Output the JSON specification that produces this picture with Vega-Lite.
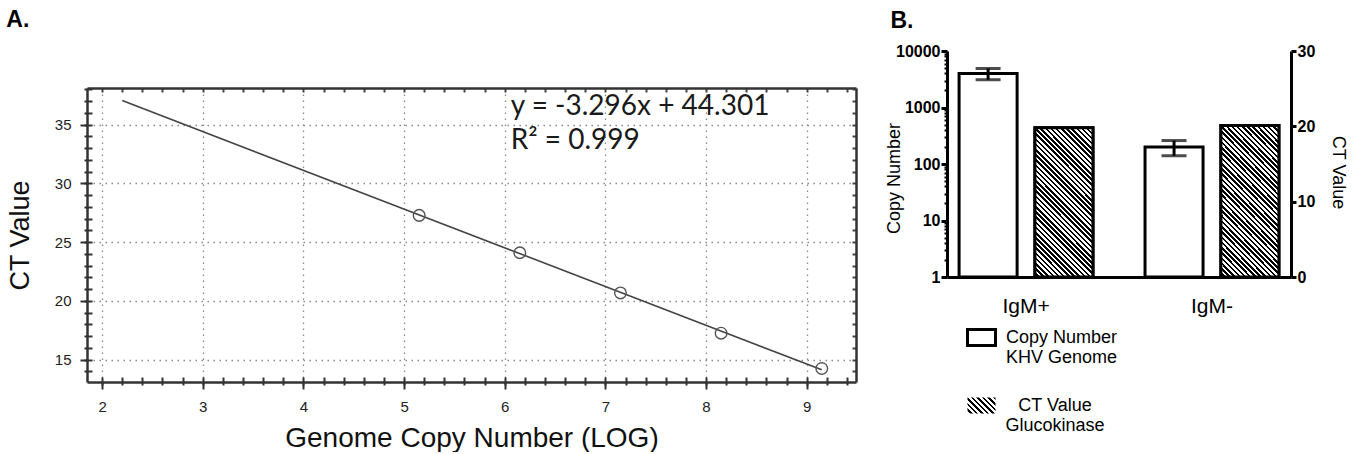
{
  "$schema": "https://vega.github.io/schema/vega-lite/v6.json",
  "background": "white",
  "padding": {"left": 6, "right": 5, "top": 9, "bottom": 0},
  "spacing": 28,
  "config": {"view": {"stroke": null}, "font": "Liberation Sans"},
  "resolve": {"legend": {"fill": "independent", "opacity": "independent"}, "scale": {"fill": "independent", "opacity": "independent"}},
  "datasets": {
    "fit": [{"logN": 2.2, "ct": 37.05}, {"logN": 9.15, "ct": 14.14}],
    "pts": [
      {"logN": 5.15, "ct": 27.28},
      {"logN": 6.15, "ct": 24.1},
      {"logN": 7.15, "ct": 20.68},
      {"logN": 8.15, "ct": 17.25},
      {"logN": 9.15, "ct": 14.25}
    ],
    "eq": [
      {"logN": 6.06, "ct": 36.5, "label": "y = -3.296x + 44.301"},
      {"logN": 6.06, "ct": 33.6, "label": "R² =  0.999"}
    ],
    "bars": [
      {"group": "IgM+", "series": "Copy", "value": 4000, "lo": 3100, "hi": 4900},
      {"group": "IgM+", "series": "CT", "value": 19.8},
      {"group": "IgM-", "series": "Copy", "value": 200, "lo": 140, "hi": 260},
      {"group": "IgM-", "series": "CT", "value": 20.1}
    ]
  },
  "hconcat": [
    {
      "title": {"text": "A.", "anchor": "start", "frame": "bounds", "font": "Liberation Sans", "fontSize": 23, "fontWeight": "bold", "color": "black", "offset": 19},
      "spacing": 0,
      "vconcat": [
        {
          "width": 769,
          "height": 36,
          "data": {"values": []},
          "mark": {"type": "point"},
          "encoding": {}
        },
        {
          "width": 769,
          "height": 294,
          "layer": [
            {
              "data": {"name": "fit"},
              "mark": {"type": "line", "color": "#444", "strokeWidth": 1.6},
              "encoding": {
                "x": {"field": "logN", "type": "quantitative",
                  "scale": {"domain": [1.85, 9.49], "nice": false, "zero": false},
                  "axis": {"orient": "bottom", "values": [2, 3, 4, 5, 6, 7, 8, 9], "format": "d",
                    "tickSize": 7, "tickWidth": 2, "tickColor": "#333", "domainColor": "#333", "domainWidth": 2.5,
                    "grid": true, "gridColor": "#888", "gridDash": [1.5, 4.5], "gridWidth": 1.3,
                    "labelFont": "Liberation Sans", "labelFontSize": 15, "labelColor": "#222", "labelPadding": 10,
                    "title": "Genome Copy Number (LOG)", "titleFont": "Liberation Sans", "titleFontSize": 28, "titleFontWeight": "normal", "titleColor": "#111", "titlePadding": 10}},
                "y": {"field": "ct", "type": "quantitative",
                  "scale": {"domain": [13.1, 38.12], "nice": false, "zero": false},
                  "axis": {"orient": "left", "values": [15, 20, 25, 30, 35], "format": "d",
                    "tickSize": 7, "tickWidth": 2, "tickColor": "#333", "domainColor": "#333", "domainWidth": 2.5,
                    "grid": true, "gridColor": "#888", "gridDash": [1.5, 4.5], "gridWidth": 1.3,
                    "labelFont": "Liberation Sans", "labelFontSize": 15, "labelColor": "#222", "labelPadding": 9,
                    "title": "CT Value", "titleFont": "Liberation Sans", "titleFontSize": 27, "titleFontWeight": "normal", "titleColor": "#111", "titlePadding": 20}}
              }
            },
            {
              "data": {"name": "pts"},
              "mark": {"type": "point", "shape": "circle", "size": 135, "color": "#555", "strokeWidth": 1.4, "filled": false, "opacity": 1},
              "encoding": {
                "x": {"field": "logN", "type": "quantitative",
                  "axis": {"orient": "bottom", "values": [2,2.2,2.4,2.6,2.8,3,3.2,3.4,3.6,3.8,4,4.2,4.4,4.6,4.8,5,5.2,5.4,5.6,5.8,6,6.2,6.4,6.6,6.8,7,7.2,7.4,7.6,7.8,8,8.2,8.4,8.6,8.8,9,9.2,9.4],
                    "tickSize": -5, "tickWidth": 2, "tickColor": "#333", "domain": false, "grid": false, "labels": false, "title": null}},
                "y": {"field": "ct", "type": "quantitative",
                  "axis": {"orient": "left", "values": [14,15,16,17,18,19,20,21,22,23,24,25,26,27,28,29,30,31,32,33,34,35,36,37,38],
                    "tickSize": -5, "tickWidth": 2, "tickColor": "#333", "domain": false, "grid": false, "labels": false, "title": null}}
              }
            },
            {
              "data": {"name": "pts"},
              "mark": {"type": "point", "opacity": 0},
              "encoding": {
                "x": {"field": "logN", "type": "quantitative",
                  "axis": {"orient": "top", "values": [2,2.2,2.4,2.6,2.8,3,3.2,3.4,3.6,3.8,4,4.2,4.4,4.6,4.8,5,5.2,5.4,5.6,5.8,6,6.2,6.4,6.6,6.8,7,7.2,7.4,7.6,7.8,8,8.2,8.4,8.6,8.8,9,9.2,9.4],
                    "tickSize": -4, "tickWidth": 2, "tickColor": "#444", "domain": true, "domainColor": "#333", "domainWidth": 2.5, "grid": false, "labels": false, "title": null}},
                "y": {"field": "ct", "type": "quantitative",
                  "axis": {"orient": "right", "values": [14,15,16,17,18,19,20,21,22,23,24,25,26,27,28,29,30,31,32,33,34,35,36,37,38],
                    "tickSize": -4, "tickWidth": 2, "tickColor": "#444", "domain": true, "domainColor": "#333", "domainWidth": 2.5, "grid": false, "labels": false, "title": null}}
              }
            },
            {
              "data": {"name": "pts"},
              "mark": {"type": "point", "opacity": 0},
              "encoding": {
                "x": {"field": "logN", "type": "quantitative",
                  "axis": {"orient": "bottom", "values": [2,2.2,2.4,2.6,2.8,3,3.2,3.4,3.6,3.8,4,4.2,4.4,4.6,4.8,5,5.2,5.4,5.6,5.8,6,6.2,6.4,6.6,6.8,7,7.2,7.4,7.6,7.8,8,8.2,8.4,8.6,8.8,9,9.2,9.4],
                    "tickSize": 3, "tickWidth": 2, "tickColor": "#333", "domain": false, "grid": false, "labels": false, "title": null}},
                "y": {"field": "ct", "type": "quantitative",
                  "axis": {"orient": "left", "values": [14,15,16,17,18,19,20,21,22,23,24,25,26,27,28,29,30,31,32,33,34,35,36,37,38],
                    "tickSize": 3, "tickWidth": 2, "tickColor": "#333", "domain": false, "grid": false, "labels": false, "title": null}}
              }
            },
            {
              "data": {"name": "eq"},
              "mark": {"type": "text", "align": "left", "baseline": "middle", "font": "Lato", "fontSize": 28, "color": "#1a1a1a"},
              "encoding": {
                "x": {"field": "logN", "type": "quantitative", "axis": null},
                "y": {"field": "ct", "type": "quantitative", "axis": null},
                "text": {"field": "label"}
              }
            }
          ],
          "resolve": {"axis": {"x": "independent", "y": "independent"}}
        }
      ]
    },
    {
      "width": 344,
      "height": 226,
      "title": {"text": "B.", "anchor": "start", "frame": "bounds", "font": "Liberation Sans", "fontSize": 23, "fontWeight": "bold", "color": "black", "offset": 10, "dx": 5},
      "data": {"name": "bars"},
      "encoding": {
        "x": {"field": "group", "type": "nominal", "sort": ["IgM+", "IgM-"],
          "scale": {"paddingInner": 0.28, "paddingOuter": 0.065},
          "axis": {"orient": "bottom", "title": null, "ticks": false, "domainWidth": 3, "domainColor": "black",
            "labels": true, "labelFont": "Liberation Sans", "labelFontSize": 21, "labelColor": "black", "labelPadding": 18, "labelAngle": 0}},
        "xOffset": {"field": "series", "type": "nominal", "scale": {"domain": ["Copy", "CT"], "paddingInner": 0.235, "paddingOuter": 0}}
      },
      "layer": [
        {
          "layer": [
            {
              "transform": [{"filter": "datum.series === 'Copy'"}],
              "mark": {"type": "bar", "stroke": "black", "strokeWidth": 3, "strokeJoin": "miter"},
              "encoding": {
                "y": {"field": "value", "type": "quantitative",
                  "scale": {"type": "log", "domain": [1, 10000], "nice": false},
                  "axis": {"orient": "left", "values": [1, 10, 100, 1000, 10000], "format": "d",
                    "tickSize": 6, "tickWidth": 3, "tickColor": "black", "domainWidth": 3, "domainColor": "black", "grid": false,
                    "labelFont": "Liberation Sans", "labelFontSize": 16, "labelFontWeight": "bold", "labelColor": "black", "labelPadding": 1,
                    "title": "Copy Number", "titleFont": "Liberation Sans", "titleFontSize": 18, "titleFontWeight": "normal", "titleColor": "black", "titlePadding": -8, "titleY": 127}},
                "y2": {"datum": 1},
                "fill": {"field": "series", "type": "nominal",
                  "scale": {"domain": ["Copy"], "range": ["white"]},
                  "legend": {
                    "title": null, "orient": "none", "legendX": 19, "legendY": 271, "direction": "vertical", "padding": 0,
                    "symbolType": "M-1,-0.5714H1V0.5714H-1Z", "symbolSize": 784, "symbolStrokeWidth": 3, "symbolStrokeColor": "black", "symbolOpacity": 1,
                    "labelFont": "Liberation Sans", "labelFontSize": 18, "labelColor": "black", "labelOffset": 9,
                    "labelExpr": "['Copy Number', 'KHV Genome']",
                    "encode": {
                      "labels": {"lineHeight": {"value": 22}, "dy": {"value": 11}}
                    }
                  }}
              }
            },
            {
              "transform": [{"filter": "datum.series === 'Copy'"}],
              "mark": {"type": "rule", "color": "black", "strokeWidth": 3},
              "encoding": {
                "y": {"field": "lo", "type": "quantitative",
                  "axis": {"orient": "left", "values": [2,3,4,5,6,7,8,9,20,30,40,50,60,70,80,90,200,300,400,500,600,700,800,900,2000,3000,4000,5000,6000,7000,8000,9000],
                    "tickSize": 3, "tickWidth": 2, "tickColor": "black", "domain": false, "grid": false, "labels": false, "title": null}},
                "y2": {"field": "hi"}
              }
            },
            {
              "transform": [{"filter": "datum.series === 'Copy'"}],
              "mark": {"type": "tick", "color": "black", "thickness": 3, "size": 25, "orient": "horizontal"},
              "encoding": {
                "y": {"field": "hi", "type": "quantitative", "axis": null}
              }
            },
            {
              "transform": [{"filter": "datum.series === 'Copy'"}],
              "mark": {"type": "tick", "color": "black", "thickness": 3, "size": 25, "orient": "horizontal"},
              "encoding": {
                "y": {"field": "lo", "type": "quantitative", "axis": null}
              }
            }
          ],
          "resolve": {"axis": {"y": "independent"}}
        },
        {
          "layer": [
            {
              "transform": [{"filter": "datum.series === 'CT'"}],
              "mark": {"type": "bar", "stroke": "black", "strokeWidth": 3, "strokeJoin": "miter",
                "fill": {"gradient": "linear", "x1": 0, "y1": 1, "x2": 1.184, "y2": 0.324, "stops": [
                  {"offset": 0, "color": "#fff"},
                  {"offset": 0.0625, "color": "#fff"}, {"offset": 0.0625, "color": "#000"},
                  {"offset": 0.125, "color": "#000"}, {"offset": 0.125, "color": "#fff"},
                  {"offset": 0.1875, "color": "#fff"}, {"offset": 0.1875, "color": "#000"},
                  {"offset": 0.25, "color": "#000"}, {"offset": 0.25, "color": "#fff"},
                  {"offset": 0.3125, "color": "#fff"}, {"offset": 0.3125, "color": "#000"},
                  {"offset": 0.375, "color": "#000"}, {"offset": 0.375, "color": "#fff"},
                  {"offset": 0.4375, "color": "#fff"}, {"offset": 0.4375, "color": "#000"},
                  {"offset": 0.5, "color": "#000"}, {"offset": 0.5, "color": "#fff"},
                  {"offset": 0.5625, "color": "#fff"}, {"offset": 0.5625, "color": "#000"},
                  {"offset": 0.625, "color": "#000"}, {"offset": 0.625, "color": "#fff"},
                  {"offset": 0.6875, "color": "#fff"}, {"offset": 0.6875, "color": "#000"},
                  {"offset": 0.75, "color": "#000"}, {"offset": 0.75, "color": "#fff"},
                  {"offset": 0.8125, "color": "#fff"}, {"offset": 0.8125, "color": "#000"},
                  {"offset": 0.875, "color": "#000"}, {"offset": 0.875, "color": "#fff"},
                  {"offset": 0.9375, "color": "#fff"}, {"offset": 0.9375, "color": "#000"},
                  {"offset": 1, "color": "#000"}
                ]}},
              "encoding": {
                "y": {"field": "value", "type": "quantitative",
                  "scale": {"domain": [0, 30], "nice": false},
                  "axis": {"orient": "right", "values": [0, 5, 10, 15, 20, 25, 30],
                    "tickSize": 5, "tickWidth": 3, "tickColor": "black", "domainWidth": 3, "domainColor": "black", "grid": false,
                    "labelFont": "Liberation Sans", "labelFontSize": 16, "labelFontWeight": "bold", "labelColor": "black", "labelPadding": 1,
                    "title": "CT Value", "titleFont": "Liberation Sans", "titleFontSize": 18, "titleFontWeight": "normal", "titleColor": "black", "titlePadding": 14, "titleY": 121}},
                "opacity": {"field": "series", "type": "ordinal",
                  "scale": {"domain": ["CT"], "range": [1]},
                  "legend": {
                    "title": null, "orient": "none", "legendX": 19, "legendY": 339, "direction": "vertical", "padding": 0,
                    "symbolType": "M-1,-0.5714H1V0.5714H-1Z", "symbolSize": 784, "symbolStrokeWidth": 3, "symbolStrokeColor": "black", "symbolOpacity": 1,
                    "labelFont": "Liberation Sans", "labelFontSize": 18, "labelColor": "black", "labelOffset": 58, "labelAlign": "center",
                    "labelExpr": "['CT Value', 'Glucokinase']",
                    "encode": {
                      "labels": {"lineHeight": {"value": 22}, "dy": {"value": 11}}
                    }
                  }}
              }
            },
            {
              "transform": [{"filter": "datum.series === 'CT'"}],
              "mark": {"type": "bar", "stroke": "black", "strokeWidth": 3, "strokeJoin": "miter",
                "fill": {"gradient": "linear", "x1": 0, "y1": 1, "x2": 0.4706, "y2": -0.2066, "stops": [
                  {"offset": 0, "color": "#fff"},
                  {"offset": 0.0125, "color": "#fff"}, {"offset": 0.0125, "color": "#000"},
                  {"offset": 0.025, "color": "#000"}, {"offset": 0.025, "color": "#fff"},
                  {"offset": 0.0375, "color": "#fff"}, {"offset": 0.0375, "color": "#000"},
                  {"offset": 0.05, "color": "#000"}, {"offset": 0.05, "color": "#fff"},
                  {"offset": 0.0625, "color": "#fff"}, {"offset": 0.0625, "color": "#000"},
                  {"offset": 0.075, "color": "#000"}, {"offset": 0.075, "color": "#fff"},
                  {"offset": 0.0875, "color": "#fff"}, {"offset": 0.0875, "color": "#000"},
                  {"offset": 0.1, "color": "#000"}, {"offset": 0.1, "color": "#fff"},
                  {"offset": 0.1125, "color": "#fff"}, {"offset": 0.1125, "color": "#000"},
                  {"offset": 0.125, "color": "#000"}, {"offset": 0.125, "color": "#fff"},
                  {"offset": 0.1375, "color": "#fff"}, {"offset": 0.1375, "color": "#000"},
                  {"offset": 0.15, "color": "#000"}, {"offset": 0.15, "color": "#fff"},
                  {"offset": 0.1625, "color": "#fff"}, {"offset": 0.1625, "color": "#000"},
                  {"offset": 0.175, "color": "#000"}, {"offset": 0.175, "color": "#fff"},
                  {"offset": 0.1875, "color": "#fff"}, {"offset": 0.1875, "color": "#000"},
                  {"offset": 0.2, "color": "#000"}, {"offset": 0.2, "color": "#fff"},
                  {"offset": 0.2125, "color": "#fff"}, {"offset": 0.2125, "color": "#000"},
                  {"offset": 0.225, "color": "#000"}, {"offset": 0.225, "color": "#fff"},
                  {"offset": 0.2375, "color": "#fff"}, {"offset": 0.2375, "color": "#000"},
                  {"offset": 0.25, "color": "#000"}, {"offset": 0.25, "color": "#fff"},
                  {"offset": 0.2625, "color": "#fff"}, {"offset": 0.2625, "color": "#000"},
                  {"offset": 0.275, "color": "#000"}, {"offset": 0.275, "color": "#fff"},
                  {"offset": 0.2875, "color": "#fff"}, {"offset": 0.2875, "color": "#000"},
                  {"offset": 0.3, "color": "#000"}, {"offset": 0.3, "color": "#fff"},
                  {"offset": 0.3125, "color": "#fff"}, {"offset": 0.3125, "color": "#000"},
                  {"offset": 0.325, "color": "#000"}, {"offset": 0.325, "color": "#fff"},
                  {"offset": 0.3375, "color": "#fff"}, {"offset": 0.3375, "color": "#000"},
                  {"offset": 0.35, "color": "#000"}, {"offset": 0.35, "color": "#fff"},
                  {"offset": 0.3625, "color": "#fff"}, {"offset": 0.3625, "color": "#000"},
                  {"offset": 0.375, "color": "#000"}, {"offset": 0.375, "color": "#fff"},
                  {"offset": 0.3875, "color": "#fff"}, {"offset": 0.3875, "color": "#000"},
                  {"offset": 0.4, "color": "#000"}, {"offset": 0.4, "color": "#fff"},
                  {"offset": 0.4125, "color": "#fff"}, {"offset": 0.4125, "color": "#000"},
                  {"offset": 0.425, "color": "#000"}, {"offset": 0.425, "color": "#fff"},
                  {"offset": 0.4375, "color": "#fff"}, {"offset": 0.4375, "color": "#000"},
                  {"offset": 0.45, "color": "#000"}, {"offset": 0.45, "color": "#fff"},
                  {"offset": 0.4625, "color": "#fff"}, {"offset": 0.4625, "color": "#000"},
                  {"offset": 0.475, "color": "#000"}, {"offset": 0.475, "color": "#fff"},
                  {"offset": 0.4875, "color": "#fff"}, {"offset": 0.4875, "color": "#000"},
                  {"offset": 0.5, "color": "#000"}, {"offset": 0.5, "color": "#fff"},
                  {"offset": 0.5125, "color": "#fff"}, {"offset": 0.5125, "color": "#000"},
                  {"offset": 0.525, "color": "#000"}, {"offset": 0.525, "color": "#fff"},
                  {"offset": 0.5375, "color": "#fff"}, {"offset": 0.5375, "color": "#000"},
                  {"offset": 0.55, "color": "#000"}, {"offset": 0.55, "color": "#fff"},
                  {"offset": 0.5625, "color": "#fff"}, {"offset": 0.5625, "color": "#000"},
                  {"offset": 0.575, "color": "#000"}, {"offset": 0.575, "color": "#fff"},
                  {"offset": 0.5875, "color": "#fff"}, {"offset": 0.5875, "color": "#000"},
                  {"offset": 0.6, "color": "#000"}, {"offset": 0.6, "color": "#fff"},
                  {"offset": 0.6125, "color": "#fff"}, {"offset": 0.6125, "color": "#000"},
                  {"offset": 0.625, "color": "#000"}, {"offset": 0.625, "color": "#fff"},
                  {"offset": 0.6375, "color": "#fff"}, {"offset": 0.6375, "color": "#000"},
                  {"offset": 0.65, "color": "#000"}, {"offset": 0.65, "color": "#fff"},
                  {"offset": 0.6625, "color": "#fff"}, {"offset": 0.6625, "color": "#000"},
                  {"offset": 0.675, "color": "#000"}, {"offset": 0.675, "color": "#fff"},
                  {"offset": 0.6875, "color": "#fff"}, {"offset": 0.6875, "color": "#000"},
                  {"offset": 0.7, "color": "#000"}, {"offset": 0.7, "color": "#fff"},
                  {"offset": 0.7125, "color": "#fff"}, {"offset": 0.7125, "color": "#000"},
                  {"offset": 0.725, "color": "#000"}, {"offset": 0.725, "color": "#fff"},
                  {"offset": 0.7375, "color": "#fff"}, {"offset": 0.7375, "color": "#000"},
                  {"offset": 0.75, "color": "#000"}, {"offset": 0.75, "color": "#fff"},
                  {"offset": 0.7625, "color": "#fff"}, {"offset": 0.7625, "color": "#000"},
                  {"offset": 0.775, "color": "#000"}, {"offset": 0.775, "color": "#fff"},
                  {"offset": 0.7875, "color": "#fff"}, {"offset": 0.7875, "color": "#000"},
                  {"offset": 0.8, "color": "#000"}, {"offset": 0.8, "color": "#fff"},
                  {"offset": 0.8125, "color": "#fff"}, {"offset": 0.8125, "color": "#000"},
                  {"offset": 0.825, "color": "#000"}, {"offset": 0.825, "color": "#fff"},
                  {"offset": 0.8375, "color": "#fff"}, {"offset": 0.8375, "color": "#000"},
                  {"offset": 0.85, "color": "#000"}, {"offset": 0.85, "color": "#fff"},
                  {"offset": 0.8625, "color": "#fff"}, {"offset": 0.8625, "color": "#000"},
                  {"offset": 0.875, "color": "#000"}, {"offset": 0.875, "color": "#fff"},
                  {"offset": 0.8875, "color": "#fff"}, {"offset": 0.8875, "color": "#000"},
                  {"offset": 0.9, "color": "#000"}, {"offset": 0.9, "color": "#fff"},
                  {"offset": 0.9125, "color": "#fff"}, {"offset": 0.9125, "color": "#000"},
                  {"offset": 0.925, "color": "#000"}, {"offset": 0.925, "color": "#fff"},
                  {"offset": 0.9375, "color": "#fff"}, {"offset": 0.9375, "color": "#000"},
                  {"offset": 0.95, "color": "#000"}, {"offset": 0.95, "color": "#fff"},
                  {"offset": 0.9625, "color": "#fff"}, {"offset": 0.9625, "color": "#000"},
                  {"offset": 0.975, "color": "#000"}, {"offset": 0.975, "color": "#fff"},
                  {"offset": 0.9875, "color": "#fff"}, {"offset": 0.9875, "color": "#000"},
                  {"offset": 1, "color": "#000"}
                ]}},
              "encoding": {
                "y": {"field": "value", "type": "quantitative"}
              }
            }
          ]
        }
      ],
      "resolve": {"scale": {"y": "independent"}}
    }
  ]
}
